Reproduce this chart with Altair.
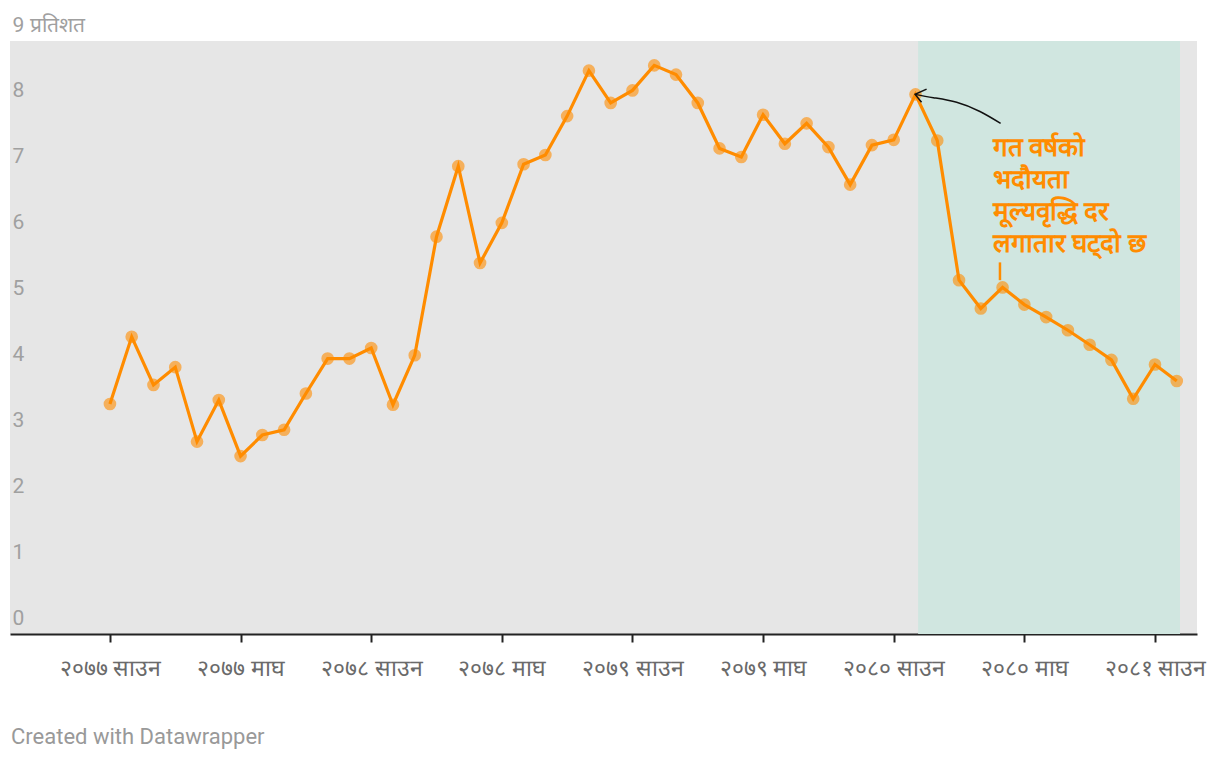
import altair as alt
import pandas as pd

# ---- data ----
inflation = [3.49, 4.51, 3.78, 4.05, 2.92, 3.55, 2.70, 3.02, 3.10, 3.65,
             4.18, 4.18, 4.34, 3.48, 4.23, 6.03, 7.10, 5.63, 6.24, 7.13,
             7.27, 7.86, 8.55, 8.06, 8.25, 8.63, 8.49, 8.06, 7.37, 7.24,
             7.88, 7.44, 7.75, 7.39, 6.82, 7.42, 7.50, 8.19, 7.49, 5.37,
             4.94, 5.26, 5.00, 4.81, 4.61, 4.39, 4.16, 3.57, 4.09, 3.84]
month_idx = list(range(len(inflation)))

tick_values = [0, 6, 12, 18, 24, 30, 36, 42, 48]
tick_labels = ["२०७७ साउन", "२०७७ माघ", "२०७८ साउन", "२०७८ माघ", "२०७९ साउन",
               "२०७९ माघ", "२०८० साउन", "२०८० माघ", "२०८१ साउन"]

shade_start = [37.12]
shade_end = [49.15]

note_text = ["गत वर्षको", "भदौयता", "मूल्यवृद्धि दर", "लगातार घट्दो छ"]
note_x = [40.56]
note_y = [7.58]

arrow_x = [40.91, 39.96, 38.89, 37.82, 36.98]
arrow_y = [7.75, 7.93, 8.07, 8.14, 8.19]
head_x = [37.51, 36.98, 37.28]
head_y = [8.27, 8.19, 8.07]
tick_mark_x = [40.88, 40.88]
tick_mark_y = [5.64, 5.37]

FONT = "Roboto"
ORANGE = "#ff8c00"

df = pd.DataFrame({"x": month_idx, "y": inflation})

xscale = alt.Scale(domain=[-4.59, 49.93], nice=False, zero=False)
yscale = alt.Scale(domain=[0, 9], nice=False, zero=False)

label_arr = "[" + ",".join("'" + t + "'" for t in tick_labels) + "]"
xaxis = alt.Axis(values=tick_values, labelExpr=label_arr + "[round(datum.value/6)]",
                 title=None, grid=False, domain=True, domainColor="#222", domainWidth=2,
                 ticks=True, tickSize=8, tickColor="#222", tickWidth=2,
                 labelColor="#6a6a6a", labelFont=FONT, labelFontSize=23, labelPadding=15,
                 labelFlush=False, labelOverlap=False)
yaxis = alt.Axis(values=list(range(10)), title=None, grid=False, domain=False, ticks=False,
                 labelExpr="datum.value == 9 ? '9 प्रतिशत' : datum.label",
                 labelAlign="left", labelPadding=-2, labelOffset=-10,
                 labelBaseline="alphabetic", labelColor="#a0a0a0", labelFont=FONT,
                 labelFontSize=21, labelFlush=False, labelOverlap=False)

X = alt.X("x:Q", scale=xscale, axis=xaxis)
Y = alt.Y("y:Q", scale=yscale, axis=yaxis)

shade = alt.Chart(pd.DataFrame({"x": shade_start, "x2": shade_end})).mark_rect(
    color="#d0e6e0").encode(x=X, x2="x2:Q", y=alt.value(0), y2=alt.value(593))

points = alt.Chart(df).mark_circle(size=160, color=ORANGE, opacity=0.6).encode(x=X, y=Y)
line = alt.Chart(df).mark_line(color=ORANGE, strokeWidth=3.2).encode(x=X, y=Y)

arrow = alt.Chart(pd.DataFrame({"x": arrow_x, "y": arrow_y, "o": range(len(arrow_x))})).mark_line(
    color="#111", strokeWidth=1.5, interpolate="natural").encode(x=X, y=Y, order="o:Q")
head = alt.Chart(pd.DataFrame({"x": head_x, "y": head_y, "o": range(len(head_x))})).mark_line(
    color="#111", strokeWidth=1.5).encode(x=X, y=Y, order="o:Q")
small_tick = alt.Chart(pd.DataFrame({"x": tick_mark_x, "y": tick_mark_y})).mark_line(
    color=ORANGE, strokeWidth=2.5).encode(x=X, y=Y)

note = alt.Chart(pd.DataFrame({"x": note_x, "y": note_y, "t": [note_text]})).mark_text(
    align="left", baseline="top", font=FONT, fontSize=26, fontWeight="bold",
    color=ORANGE, lineHeight=32).encode(x=X, y=Y, text="t")

footer = alt.Chart(pd.DataFrame({"t": ["Created with Datawrapper"]})).mark_text(
    align="left", baseline="middle", font=FONT, fontSize=22, color="#999999").encode(
    x=alt.value(1), y=alt.value(696), text="t:N")

chart = alt.layer(shade, points, line, arrow, head, small_tick, note, footer).properties(
    width=1187, height=593,
    autosize=alt.AutoSizeParams(type="none"),
    padding={"left": 10, "top": 41, "right": 23, "bottom": 128},
    background="white",
).configure_view(stroke=None, fill="#e6e6e6")

chart.save("out.html", embed_options={"renderer": "svg", "actions": False})
